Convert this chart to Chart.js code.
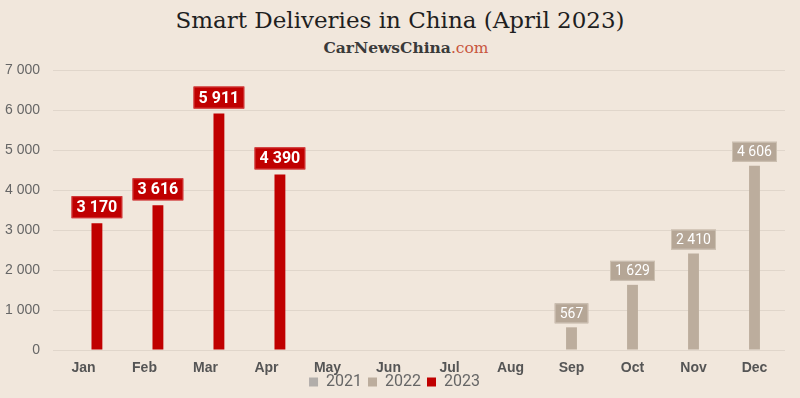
<!DOCTYPE html>
<html>
<head>
<meta charset="utf-8">
<script src="https://cdn.jsdelivr.net/npm/chart.js@4"></script>
<style>
  html, body { margin: 0; padding: 0; background: #F1E7DC; }
  #wrap { position: relative; width: 800px; height: 398px; overflow: hidden; }
  #title { position: absolute; top: 7px; left: 0; width: 800px; text-align: center;
    font-family: 'DejaVu Serif', serif; font-size: 23px; color: #1f1f1f; }
  #sub { position: absolute; top: 38px; left: 6px; width: 800px; text-align: center;
    font-family: 'DejaVu Serif', serif; font-size: 15.5px; font-weight: bold; color: #3a3a3a; }
  #sub span { color: #C8553D; font-weight: normal; }
  canvas { position: absolute; top: 0; left: 0; }
</style>
</head>
<body>
<div id="wrap">
  <div id="title">Smart Deliveries in China (April 2023)</div>
  <div id="sub">CarNewsChina<span>.com</span></div>
  <canvas id="chart" width="800" height="398"></canvas>
</div>
<script>
// Smart deliveries by month, three years side by side
const months = ['Jan','Feb','Mar','Apr','May','Jun','Jul','Aug','Sep','Oct','Nov','Dec']
const sales2021 = [null,null,null,null,null,null,null,null,null,null,null,null]
const sales2022 = [null,null,null,null,null,null,null,null,567,1629,2410,4606]
const sales2023 = [3170,3616,5911,4390,null,null,null,null,null,null,null,null]
const yTicks = [0,1000,2000,3000,4000,5000,6000,7000]

function fmt (v) {
  return String(v).replace(/\B(?=(\d{3})+(?!\d))/g, ' ')
}

// boxed value labels above each bar
const boxLabels = {
  id: 'boxLabels',
  afterLayout (chart) {
    // legend sits tight under the month labels
    if (chart.legend) { chart.legend.top -= 8; chart.legend.bottom -= 8 }
  },
  afterDatasetsDraw (chart) {
    const ctx = chart.ctx
    chart.data.datasets.forEach((ds, i) => {
      const meta = chart.getDatasetMeta(i)
      if (meta.hidden) return
      const bold = ds.label === '2023'
      meta.data.forEach((bar, j) => {
        const v = ds.data[j]
        if (v == null) return
        ctx.save()
        ctx.font = bold ? 'bold 16px Roboto' : '14px Roboto'
        const txt = fmt(v)
        const tw = ctx.measureText(txt).width
        const w = tw + 10
        const h = bold ? 22 : 20
        const bottom = bar.y - (bold ? 5 : 4)
        ctx.fillStyle = bold ? '#C00000' : '#B5A696'
        ctx.fillRect(bar.x - w / 2, bottom - h, w, h)
        ctx.strokeStyle = bold ? '#D23B3B' : '#CDC1B3'
        ctx.lineWidth = 1
        ctx.strokeRect(bar.x - w / 2 + 0.5, bottom - h + 0.5, w - 1, h - 1)
        ctx.fillStyle = '#ffffff'
        ctx.textAlign = 'center'
        ctx.textBaseline = 'middle'
        ctx.fillText(txt, bar.x, bottom - h / 2 + 1)
        ctx.restore()
      })
    })
  }
}

new Chart(document.getElementById('chart'), {
  type: 'bar',
  data: {
    labels: months,
    datasets: [
      { label: '2021', data: sales2021, backgroundColor: '#B2AEAA', borderColor: '#CFCBD0' },
      { label: '2022', data: sales2022, backgroundColor: '#BCAD9D', borderColor: '#BCAD9D' },
      { label: '2023', data: sales2023, backgroundColor: '#C00000', borderColor: '#C00000' }
    ]
  },
  options: {
    responsive: false,
    animation: false,
    layout: { padding: { top: 70, left: 4, right: 15, bottom: -10 } },
    datasets: { bar: { categoryPercentage: 0.66, barPercentage: 0.81 } },
    plugins: {
      legend: {
        position: 'bottom',
        labels: {
          boxWidth: 9, boxHeight: 9, padding: 6,
          color: '#666', font: { family: 'Roboto', size: 16 }
        }
      },
      tooltip: { enabled: false }
    },
    scales: {
      x: {
        grid: { display: false },
        border: { display: false },
        ticks: { color: '#555', padding: 2, font: { family: 'Liberation Sans', size: 14, weight: 'bold' } },
        afterFit: axis => { axis.height = 26 }
      },
      y: {
        min: 0,
        max: 7000,
        afterBuildTicks: axis => { axis.ticks = yTicks.map(v => ({ value: v })) },
        afterFit: axis => { axis.width = 49 },
        grid: { color: '#E0D6CB', drawTicks: false },
        border: { display: false },
        ticks: { color: '#666', padding: 13, callback: v => fmt(v), font: { family: 'Liberation Sans', size: 14 } }
      }
    }
  },
  plugins: [boxLabels]
})
</script>
</body>
</html>
